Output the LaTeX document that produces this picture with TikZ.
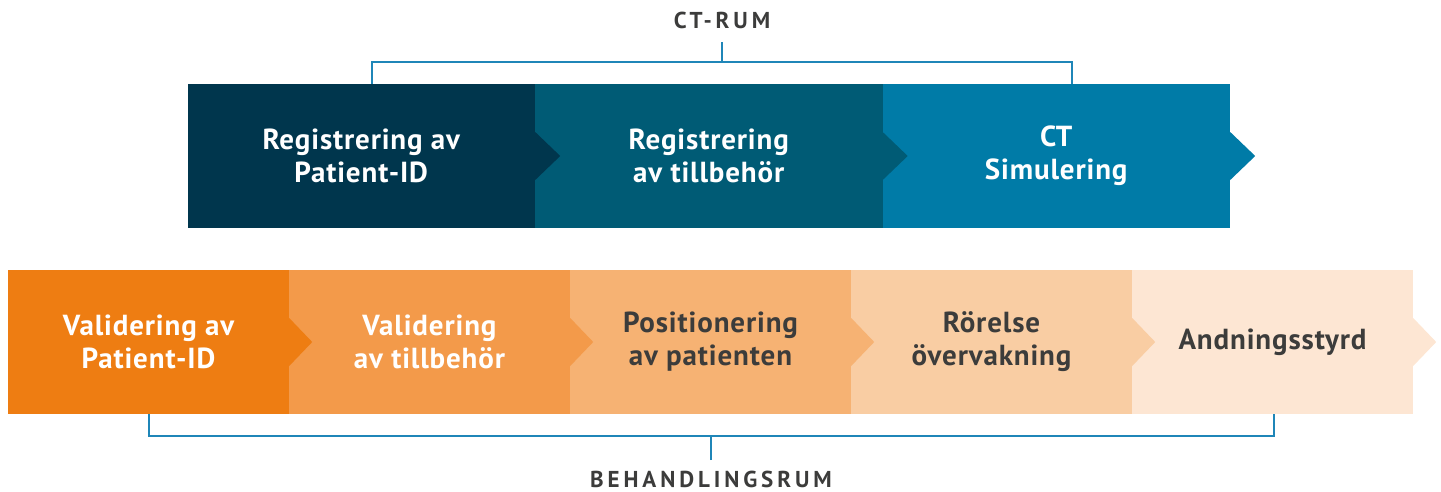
\documentclass[tikz,border=0pt]{standalone}
\usepackage{fontspec}
\setmainfont{PT Sans}
\newfontfamily\lblfamily{PT Sans}[LetterSpace=17]
\newfontfamily\bxfamily{PT Sans}[LetterSpace=3]
\usetikzlibrary{calc}
\definecolor{tA}{HTML}{00364D}
\definecolor{tB}{HTML}{005B75}
\definecolor{tC}{HTML}{007BA7}
\definecolor{bA}{HTML}{EE7D12}
\definecolor{bB}{HTML}{F39A4A}
\definecolor{bC}{HTML}{F6B273}
\definecolor{bD}{HTML}{F9CDA3}
\definecolor{bE}{HTML}{FDE6D3}
\definecolor{brk}{HTML}{1F86B8}
\definecolor{txtgray}{HTML}{3C3C3B}
\newcommand\bxfont{\bxfamily\fontsize{29}{33}\selectfont\bfseries}
\newcommand\lbfont{\lblfamily\fontsize{23}{26}\selectfont\bfseries}
\tikzset{
  topbox/.style={rectangle, inner sep=0pt, minimum width=347.5pt, minimum height=144pt, align=center, font=\bxfont, text=white},
  botbox/.style={rectangle, inner sep=0pt, minimum width=281pt, minimum height=144pt, align=center, font=\bxfont},
  bracket/.style={draw=brk, line width=1.6pt},
  roomlabel/.style={inner sep=0pt, font=\lbfont, text=txtgray},
}
\begin{document}
\begin{tikzpicture}[x=1pt,y=-1pt]
\useasboundingbox (0,0) rectangle (1441,491);
% top row
\node[topbox, fill=tA] (r1) at (361.25,156) {Registrering av\\Patient-ID};
\node[topbox, fill=tB] (r2) at (708.75,156) {Registrering\\av tillbehör};
\node[topbox, fill=tC] (r3) at (1056.25,156) {CT\\Simulering};
\foreach \n/\c in {r1/tA, r2/tB, r3/tC}{
  \fill[\c] ([yshift=24pt]\n.east) -- ([xshift=25pt]\n.east) -- ([yshift=-24pt]\n.east) -- cycle;
}
% bottom row
\node[botbox, fill=bA, text=white] (v1) at (148.5,342) {Validering av\\Patient-ID};
\node[botbox, fill=bB, text=white] (v2) at (429.5,342) {Validering\\av tillbehör};
\node[botbox, fill=bC, text=txtgray] (v3) at (710.5,342) {Positionering\\av patienten};
\node[botbox, fill=bD, text=txtgray] (v4) at (991.5,342) {Rörelse\\övervakning};
\node[botbox, fill=bE, text=txtgray] (v5) at (1272.5,342) {Andningsstyrd};
\foreach \n/\c in {v1/bA, v2/bB, v3/bC, v4/bD, v5/bE}{
  \fill[\c] ([yshift=24pt]\n.east) -- ([xshift=23pt]\n.east) -- ([yshift=-24pt]\n.east) -- cycle;
}
% labels
\node[roomlabel] (ct) at (722,20) {CT-RUM};
\node[roomlabel] (beh) at (711,479) {BEHANDLINGSRUM};
% top bracket
\coordinate (tl) at (372,62);
\coordinate (tr) at (1072,62);
\coordinate (ts) at (722,42);
\draw[bracket] (r1.north -| tl) -- (tl) -- (tr) -- (r3.north -| tr);
\draw[bracket] (ts) -- (ts |- tl);
% bottom bracket
\coordinate (bl) at (149,436);
\coordinate (br) at (1274,436);
\coordinate (bs) at (711,460);
\draw[bracket] (v1.south -| bl) -- (bl) -- (br) -- (v5.south -| br);
\draw[bracket] (bs) -- (bs |- bl);
\end{tikzpicture}
\end{document}
